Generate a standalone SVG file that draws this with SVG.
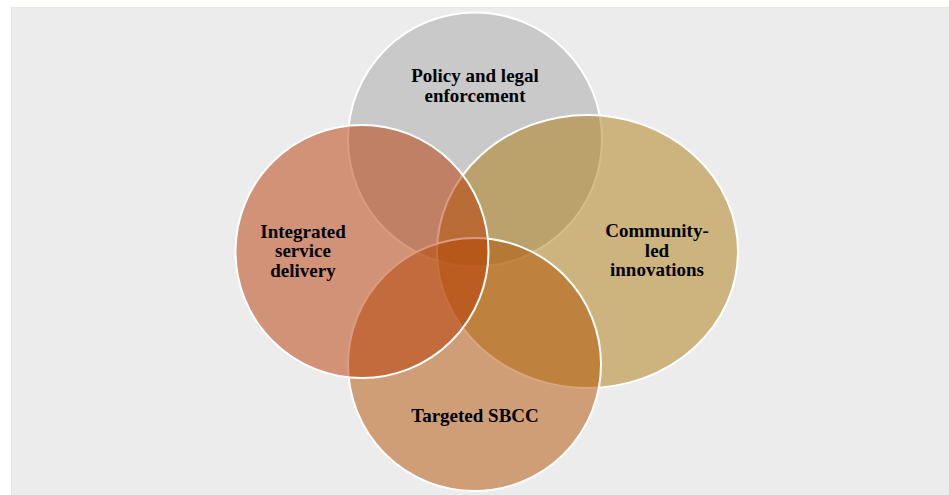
<svg xmlns="http://www.w3.org/2000/svg" width="949" height="495" viewBox="0 0 949 495">
<style>
.c{stroke:#ffffff;stroke-width:2}
.t{font-family:"Liberation Serif","Times New Roman",serif;font-weight:bold;font-size:19px;fill:#000;text-anchor:middle}
</style>
<rect x="0" y="0" width="949" height="495" fill="#ffffff"/>
<rect x="11.5" y="7.5" width="945" height="495" fill="#ececec" stroke="#e1ead7" stroke-width="1"/>
<g id="node-policy">
<circle class="c" cx="475" cy="139.5" r="127" fill="#a6a6a6" fill-opacity="0.5"/>
</g>
<g id="node-community">
<ellipse class="c" cx="587.5" cy="251.5" rx="150.5" ry="136.5" fill="#ae7a0e" fill-opacity="0.5"/>
</g>
<g id="node-sbcc">
<circle class="c" cx="474.5" cy="364.5" r="126.5" fill="#b25000" fill-opacity="0.5"/>
</g>
<g id="node-integrated">
<circle class="c" cx="362" cy="251.5" r="126.5" fill="#b83802" fill-opacity="0.5"/>
</g>
<g id="labels">
<text class="t" x="475" y="82">Policy and legal</text>
<text class="t" x="475" y="101.5">enforcement</text>
<text class="t" x="657" y="237">Community-</text>
<text class="t" x="657" y="256.5">led</text>
<text class="t" x="657" y="276">innovations</text>
<text class="t" x="303" y="237.5">Integrated</text>
<text class="t" x="303" y="257">service</text>
<text class="t" x="303" y="276.5">delivery</text>
<text class="t" x="475" y="422">Targeted SBCC</text>
</g>
<g id="connectors"></g>
</svg>
